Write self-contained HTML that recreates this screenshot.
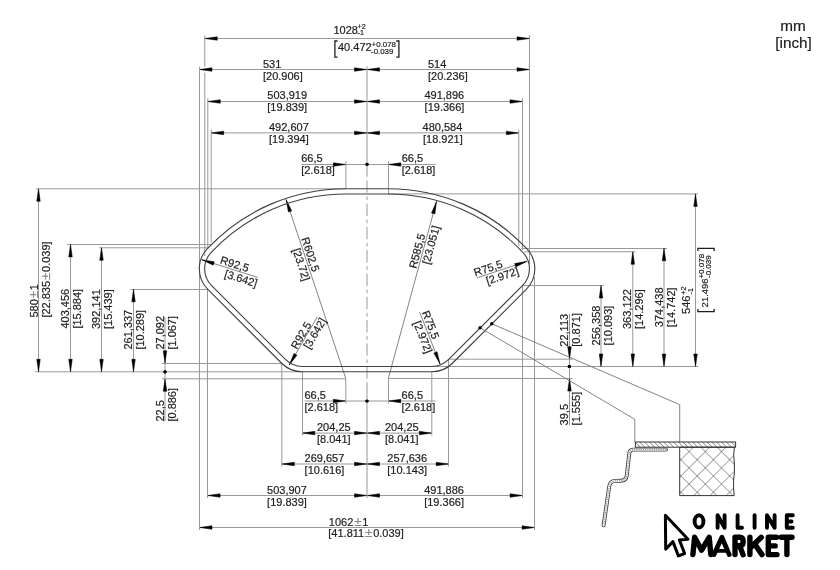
<!DOCTYPE html><html><head><meta charset="utf-8"><style>html,body{margin:0;padding:0;background:#fff;}svg{display:block;will-change:transform;}</style></head><body><svg width="840" height="570" viewBox="0 0 840 570">
<rect width="840" height="570" fill="#fff"/>
<line x1="204.75" y1="38.50" x2="529.50" y2="38.50" stroke="#999" stroke-width="1" fill="none"/>
<path d="M204.75,38.50 L217.25,40.25 L217.25,36.75 Z" fill="#000" stroke="#000" stroke-width="0.5" stroke-linejoin="round"/>
<path d="M529.50,38.50 L517.00,36.75 L517.00,40.25 Z" fill="#000" stroke="#000" stroke-width="0.5" stroke-linejoin="round"/>
<text x="333.40" y="33.60" font-size="11.00" font-family="Liberation Sans, sans-serif" fill="#1e1e1e" stroke="#1e1e1e" stroke-width="0.2" >1028</text>
<text x="357.60" y="28.60" font-size="7.20" font-family="Liberation Sans, sans-serif" fill="#1e1e1e" stroke="#1e1e1e" stroke-width="0.2" >+2</text>
<text x="357.60" y="35.40" font-size="7.20" font-family="Liberation Sans, sans-serif" fill="#1e1e1e" stroke="#1e1e1e" stroke-width="0.2" >-1</text>
<path d="M337.6,41 H334.9 V57.1 H337.6 M396.2,41 H398.9 V57.1 H396.2" stroke="#1e1e1e" stroke-width="1.3" fill="none"/>
<text x="338.00" y="50.60" font-size="11.00" font-family="Liberation Sans, sans-serif" fill="#1e1e1e" stroke="#1e1e1e" stroke-width="0.2" >40.472</text>
<text x="371.60" y="46.60" font-size="7.90" font-family="Liberation Sans, sans-serif" fill="#1e1e1e" stroke="#1e1e1e" stroke-width="0.2" >+0.078</text>
<text x="371.00" y="53.60" font-size="7.90" font-family="Liberation Sans, sans-serif" fill="#1e1e1e" stroke="#1e1e1e" stroke-width="0.2" >-0.039</text>
<line x1="199.50" y1="69.50" x2="367.00" y2="69.50" stroke="#999" stroke-width="1" fill="none"/>
<path d="M199.50,69.50 L212.00,71.25 L212.00,67.75 Z" fill="#000" stroke="#000" stroke-width="0.5" stroke-linejoin="round"/>
<path d="M367.00,69.50 L354.50,67.75 L354.50,71.25 Z" fill="#000" stroke="#000" stroke-width="0.5" stroke-linejoin="round"/>
<text x="263.00" y="67.80" font-size="11.00" font-family="Liberation Sans, sans-serif" fill="#1e1e1e" stroke="#1e1e1e" stroke-width="0.2" >531</text>
<text x="263.00" y="79.60" font-size="11.00" font-family="Liberation Sans, sans-serif" fill="#1e1e1e" stroke="#1e1e1e" stroke-width="0.2" >[20.906]</text>
<line x1="367.00" y1="69.50" x2="529.50" y2="69.50" stroke="#999" stroke-width="1" fill="none"/>
<path d="M367.00,69.50 L379.50,71.25 L379.50,67.75 Z" fill="#000" stroke="#000" stroke-width="0.5" stroke-linejoin="round"/>
<path d="M529.50,69.50 L517.00,67.75 L517.00,71.25 Z" fill="#000" stroke="#000" stroke-width="0.5" stroke-linejoin="round"/>
<text x="428.00" y="67.80" font-size="11.00" font-family="Liberation Sans, sans-serif" fill="#1e1e1e" stroke="#1e1e1e" stroke-width="0.2" >514</text>
<text x="428.00" y="79.60" font-size="11.00" font-family="Liberation Sans, sans-serif" fill="#1e1e1e" stroke="#1e1e1e" stroke-width="0.2" >[20.236]</text>
<line x1="207.80" y1="101.50" x2="367.00" y2="101.50" stroke="#999" stroke-width="1" fill="none"/>
<path d="M207.80,101.50 L220.30,103.25 L220.30,99.75 Z" fill="#000" stroke="#000" stroke-width="0.5" stroke-linejoin="round"/>
<path d="M367.00,101.50 L354.50,99.75 L354.50,103.25 Z" fill="#000" stroke="#000" stroke-width="0.5" stroke-linejoin="round"/>
<text x="267.30" y="99.40" font-size="11.00" font-family="Liberation Sans, sans-serif" fill="#1e1e1e" stroke="#1e1e1e" stroke-width="0.2" >503,919</text>
<text x="267.30" y="111.20" font-size="11.00" font-family="Liberation Sans, sans-serif" fill="#1e1e1e" stroke="#1e1e1e" stroke-width="0.2" >[19.839]</text>
<line x1="367.00" y1="101.50" x2="522.50" y2="101.50" stroke="#999" stroke-width="1" fill="none"/>
<path d="M367.00,101.50 L379.50,103.25 L379.50,99.75 Z" fill="#000" stroke="#000" stroke-width="0.5" stroke-linejoin="round"/>
<path d="M522.50,101.50 L510.00,99.75 L510.00,103.25 Z" fill="#000" stroke="#000" stroke-width="0.5" stroke-linejoin="round"/>
<text x="424.40" y="99.40" font-size="11.00" font-family="Liberation Sans, sans-serif" fill="#1e1e1e" stroke="#1e1e1e" stroke-width="0.2" >491,896</text>
<text x="424.60" y="111.20" font-size="11.00" font-family="Liberation Sans, sans-serif" fill="#1e1e1e" stroke="#1e1e1e" stroke-width="0.2" >[19.366]</text>
<line x1="211.20" y1="132.90" x2="367.00" y2="132.90" stroke="#999" stroke-width="1" fill="none"/>
<path d="M211.20,132.90 L223.70,134.65 L223.70,131.15 Z" fill="#000" stroke="#000" stroke-width="0.5" stroke-linejoin="round"/>
<path d="M367.00,132.90 L354.50,131.15 L354.50,134.65 Z" fill="#000" stroke="#000" stroke-width="0.5" stroke-linejoin="round"/>
<text x="269.00" y="131.00" font-size="11.00" font-family="Liberation Sans, sans-serif" fill="#1e1e1e" stroke="#1e1e1e" stroke-width="0.2" >492,607</text>
<text x="269.00" y="142.80" font-size="11.00" font-family="Liberation Sans, sans-serif" fill="#1e1e1e" stroke="#1e1e1e" stroke-width="0.2" >[19.394]</text>
<line x1="367.00" y1="132.90" x2="518.80" y2="132.90" stroke="#999" stroke-width="1" fill="none"/>
<path d="M367.00,132.90 L379.50,134.65 L379.50,131.15 Z" fill="#000" stroke="#000" stroke-width="0.5" stroke-linejoin="round"/>
<path d="M518.80,132.90 L506.30,131.15 L506.30,134.65 Z" fill="#000" stroke="#000" stroke-width="0.5" stroke-linejoin="round"/>
<text x="422.60" y="131.00" font-size="11.00" font-family="Liberation Sans, sans-serif" fill="#1e1e1e" stroke="#1e1e1e" stroke-width="0.2" >480,584</text>
<text x="423.00" y="142.80" font-size="11.00" font-family="Liberation Sans, sans-serif" fill="#1e1e1e" stroke="#1e1e1e" stroke-width="0.2" >[18.921]</text>
<line x1="301.40" y1="164.50" x2="435.40" y2="164.50" stroke="#999" stroke-width="1" fill="none"/>
<path d="M345.90,164.50 L333.40,162.75 L333.40,166.25 Z" fill="#000" stroke="#000" stroke-width="0.5" stroke-linejoin="round"/>
<path d="M388.30,164.50 L400.80,166.25 L400.80,162.75 Z" fill="#000" stroke="#000" stroke-width="0.5" stroke-linejoin="round"/>
<text x="301.20" y="162.40" font-size="11.00" font-family="Liberation Sans, sans-serif" fill="#1e1e1e" stroke="#1e1e1e" stroke-width="0.2" >66,5</text>
<text x="301.20" y="174.20" font-size="11.00" font-family="Liberation Sans, sans-serif" fill="#1e1e1e" stroke="#1e1e1e" stroke-width="0.2" >[2.618]</text>
<text x="401.70" y="162.40" font-size="11.00" font-family="Liberation Sans, sans-serif" fill="#1e1e1e" stroke="#1e1e1e" stroke-width="0.2" >66,5</text>
<text x="401.70" y="174.20" font-size="11.00" font-family="Liberation Sans, sans-serif" fill="#1e1e1e" stroke="#1e1e1e" stroke-width="0.2" >[2.618]</text>
<circle cx="367.00" cy="164.30" r="1.60" fill="#000"/>
<line x1="345.90" y1="161.30" x2="345.90" y2="188.70" stroke="#999" stroke-width="1" fill="none"/>
<line x1="388.50" y1="161.30" x2="388.50" y2="194.00" stroke="#999" stroke-width="1" fill="none"/>
<line x1="304.70" y1="401.00" x2="435.50" y2="401.00" stroke="#999" stroke-width="1" fill="none"/>
<path d="M345.80,401.00 L333.30,399.25 L333.30,402.75 Z" fill="#000" stroke="#000" stroke-width="0.5" stroke-linejoin="round"/>
<path d="M388.30,401.00 L400.80,402.75 L400.80,399.25 Z" fill="#000" stroke="#000" stroke-width="0.5" stroke-linejoin="round"/>
<circle cx="367.00" cy="401.00" r="1.60" fill="#000"/>
<text x="304.50" y="399.10" font-size="11.00" font-family="Liberation Sans, sans-serif" fill="#1e1e1e" stroke="#1e1e1e" stroke-width="0.2" >66,5</text>
<text x="304.50" y="410.90" font-size="11.00" font-family="Liberation Sans, sans-serif" fill="#1e1e1e" stroke="#1e1e1e" stroke-width="0.2" >[2.618]</text>
<text x="401.60" y="399.10" font-size="11.00" font-family="Liberation Sans, sans-serif" fill="#1e1e1e" stroke="#1e1e1e" stroke-width="0.2" >66,5</text>
<text x="401.60" y="410.90" font-size="11.00" font-family="Liberation Sans, sans-serif" fill="#1e1e1e" stroke="#1e1e1e" stroke-width="0.2" >[2.618]</text>
<line x1="345.80" y1="378.60" x2="345.80" y2="403.50" stroke="#999" stroke-width="1" fill="none"/>
<line x1="388.50" y1="378.60" x2="388.50" y2="403.50" stroke="#999" stroke-width="1" fill="none"/>
<line x1="302.30" y1="433.10" x2="431.80" y2="433.10" stroke="#999" stroke-width="1" fill="none"/>
<path d="M302.30,433.10 L314.80,434.85 L314.80,431.35 Z" fill="#000" stroke="#000" stroke-width="0.5" stroke-linejoin="round"/>
<path d="M367.00,433.10 L354.50,431.35 L354.50,434.85 Z" fill="#000" stroke="#000" stroke-width="0.5" stroke-linejoin="round"/>
<path d="M367.00,433.10 L379.50,434.85 L379.50,431.35 Z" fill="#000" stroke="#000" stroke-width="0.5" stroke-linejoin="round"/>
<path d="M431.80,433.10 L419.30,431.35 L419.30,434.85 Z" fill="#000" stroke="#000" stroke-width="0.5" stroke-linejoin="round"/>
<text x="317.00" y="431.20" font-size="11.00" font-family="Liberation Sans, sans-serif" fill="#1e1e1e" stroke="#1e1e1e" stroke-width="0.2" >204,25</text>
<text x="317.00" y="443.00" font-size="11.00" font-family="Liberation Sans, sans-serif" fill="#1e1e1e" stroke="#1e1e1e" stroke-width="0.2" >[8.041]</text>
<text x="385.00" y="431.20" font-size="11.00" font-family="Liberation Sans, sans-serif" fill="#1e1e1e" stroke="#1e1e1e" stroke-width="0.2" >204,25</text>
<text x="385.00" y="443.00" font-size="11.00" font-family="Liberation Sans, sans-serif" fill="#1e1e1e" stroke="#1e1e1e" stroke-width="0.2" >[8.041]</text>
<line x1="302.50" y1="371.80" x2="302.50" y2="435.60" stroke="#999" stroke-width="1" fill="none"/>
<line x1="431.80" y1="371.80" x2="431.80" y2="435.60" stroke="#999" stroke-width="1" fill="none"/>
<line x1="281.80" y1="464.00" x2="448.70" y2="464.00" stroke="#999" stroke-width="1" fill="none"/>
<path d="M281.80,464.00 L294.30,465.75 L294.30,462.25 Z" fill="#000" stroke="#000" stroke-width="0.5" stroke-linejoin="round"/>
<path d="M367.00,464.00 L354.50,462.25 L354.50,465.75 Z" fill="#000" stroke="#000" stroke-width="0.5" stroke-linejoin="round"/>
<path d="M367.00,464.00 L379.50,465.75 L379.50,462.25 Z" fill="#000" stroke="#000" stroke-width="0.5" stroke-linejoin="round"/>
<path d="M448.70,464.00 L436.20,462.25 L436.20,465.75 Z" fill="#000" stroke="#000" stroke-width="0.5" stroke-linejoin="round"/>
<text x="304.60" y="462.10" font-size="11.00" font-family="Liberation Sans, sans-serif" fill="#1e1e1e" stroke="#1e1e1e" stroke-width="0.2" >269,657</text>
<text x="304.60" y="473.90" font-size="11.00" font-family="Liberation Sans, sans-serif" fill="#1e1e1e" stroke="#1e1e1e" stroke-width="0.2" >[10.616]</text>
<text x="387.30" y="462.10" font-size="11.00" font-family="Liberation Sans, sans-serif" fill="#1e1e1e" stroke="#1e1e1e" stroke-width="0.2" >257,636</text>
<text x="387.30" y="473.90" font-size="11.00" font-family="Liberation Sans, sans-serif" fill="#1e1e1e" stroke="#1e1e1e" stroke-width="0.2" >[10.143]</text>
<line x1="281.80" y1="363.30" x2="281.80" y2="466.50" stroke="#999" stroke-width="1" fill="none"/>
<line x1="448.50" y1="359.40" x2="448.50" y2="466.50" stroke="#999" stroke-width="1" fill="none"/>
<line x1="207.60" y1="495.50" x2="522.60" y2="495.50" stroke="#999" stroke-width="1" fill="none"/>
<path d="M207.60,495.50 L220.10,497.25 L220.10,493.75 Z" fill="#000" stroke="#000" stroke-width="0.5" stroke-linejoin="round"/>
<path d="M367.00,495.50 L354.50,493.75 L354.50,497.25 Z" fill="#000" stroke="#000" stroke-width="0.5" stroke-linejoin="round"/>
<path d="M367.00,495.50 L379.50,497.25 L379.50,493.75 Z" fill="#000" stroke="#000" stroke-width="0.5" stroke-linejoin="round"/>
<path d="M522.60,495.50 L510.10,493.75 L510.10,497.25 Z" fill="#000" stroke="#000" stroke-width="0.5" stroke-linejoin="round"/>
<text x="267.10" y="493.70" font-size="11.00" font-family="Liberation Sans, sans-serif" fill="#1e1e1e" stroke="#1e1e1e" stroke-width="0.2" >503,907</text>
<text x="267.10" y="505.50" font-size="11.00" font-family="Liberation Sans, sans-serif" fill="#1e1e1e" stroke="#1e1e1e" stroke-width="0.2" >[19.839]</text>
<text x="424.20" y="493.70" font-size="11.00" font-family="Liberation Sans, sans-serif" fill="#1e1e1e" stroke="#1e1e1e" stroke-width="0.2" >491,886</text>
<text x="424.20" y="505.50" font-size="11.00" font-family="Liberation Sans, sans-serif" fill="#1e1e1e" stroke="#1e1e1e" stroke-width="0.2" >[19.366]</text>
<line x1="199.50" y1="527.50" x2="534.60" y2="527.50" stroke="#999" stroke-width="1" fill="none"/>
<path d="M199.50,527.50 L212.00,529.25 L212.00,525.75 Z" fill="#000" stroke="#000" stroke-width="0.5" stroke-linejoin="round"/>
<path d="M534.60,527.50 L522.10,525.75 L522.10,529.25 Z" fill="#000" stroke="#000" stroke-width="0.5" stroke-linejoin="round"/>
<text x="328.80" y="525.50" font-size="11.00" font-family="Liberation Sans, sans-serif" fill="#1e1e1e" stroke="#1e1e1e" stroke-width="0.2" >1062<tspan dx="0.9" font-size="13.42" fill="#8a8a8a" stroke="#8a8a8a">±</tspan><tspan dx="0.7">1</tspan></text>
<text x="328.30" y="537.30" font-size="11.00" font-family="Liberation Sans, sans-serif" fill="#1e1e1e" stroke="#1e1e1e" stroke-width="0.2" >[41.811<tspan dx="0.9" font-size="13.42" fill="#8a8a8a" stroke="#8a8a8a">±</tspan><tspan dx="0.7">0.039]</tspan></text>
<line x1="204.75" y1="35.40" x2="204.75" y2="66.70" stroke="#999" stroke-width="1" fill="none"/>
<line x1="204.75" y1="72.80" x2="204.75" y2="256.00" stroke="#999" stroke-width="1" fill="none"/>
<line x1="529.50" y1="35.30" x2="529.50" y2="264.00" stroke="#999" stroke-width="1" fill="none"/>
<line x1="199.50" y1="66.70" x2="199.50" y2="530.00" stroke="#999" stroke-width="1" fill="none"/>
<line x1="534.50" y1="277.00" x2="534.50" y2="530.00" stroke="#999" stroke-width="1" fill="none"/>
<line x1="207.80" y1="98.10" x2="207.80" y2="248.20" stroke="#999" stroke-width="1" fill="none"/>
<line x1="207.50" y1="289.00" x2="207.50" y2="498.00" stroke="#999" stroke-width="1" fill="none"/>
<line x1="522.50" y1="98.30" x2="522.50" y2="250.00" stroke="#999" stroke-width="1" fill="none"/>
<line x1="522.50" y1="285.50" x2="522.50" y2="498.00" stroke="#999" stroke-width="1" fill="none"/>
<line x1="211.20" y1="129.50" x2="211.20" y2="242.50" stroke="#999" stroke-width="1" fill="none"/>
<line x1="518.80" y1="129.70" x2="518.80" y2="246.00" stroke="#999" stroke-width="1" fill="none"/>
<line x1="367.00" y1="66.50" x2="367.00" y2="176.80" stroke="#999" stroke-width="1" fill="none"/>
<line x1="367" y1="180.3" x2="367" y2="378.7" stroke="#999" stroke-width="1" fill="none" stroke-dasharray="12.4 3.6 3.7 3.6"/>
<line x1="367.00" y1="382.10" x2="367.00" y2="498.00" stroke="#999" stroke-width="1" fill="none"/>
<line x1="36.00" y1="188.80" x2="346.00" y2="188.80" stroke="#999" stroke-width="1" fill="none"/>
<line x1="35.40" y1="371.80" x2="302.30" y2="371.80" stroke="#999" stroke-width="1" fill="none"/>
<line x1="38.50" y1="188.80" x2="38.50" y2="371.80" stroke="#999" stroke-width="1" fill="none"/>
<path d="M38.50,188.80 L36.75,201.30 L40.25,201.30 Z" fill="#000" stroke="#000" stroke-width="0.5" stroke-linejoin="round"/>
<path d="M38.50,371.80 L40.25,359.30 L36.75,359.30 Z" fill="#000" stroke="#000" stroke-width="0.5" stroke-linejoin="round"/>
<text transform="translate(37.60 317.60) rotate(-90.00)" font-size="11.00" font-family="Liberation Sans, sans-serif" fill="#1e1e1e" stroke="#1e1e1e" stroke-width="0.2" >580<tspan dx="0.9" font-size="13.42" fill="#8a8a8a" stroke="#8a8a8a">±</tspan><tspan dx="0.7">1</tspan></text>
<text transform="translate(49.60 317.60) rotate(-90.00)" font-size="11.00" font-family="Liberation Sans, sans-serif" fill="#1e1e1e" stroke="#1e1e1e" stroke-width="0.2" >[22.835<tspan dx="0.9" font-size="13.42" fill="#8a8a8a" stroke="#8a8a8a">±</tspan><tspan dx="0.7">0.039]</tspan></text>
<line x1="67.00" y1="244.50" x2="211.00" y2="244.50" stroke="#999" stroke-width="1" fill="none"/>
<line x1="70.50" y1="244.40" x2="70.50" y2="371.80" stroke="#999" stroke-width="1" fill="none"/>
<path d="M70.50,244.40 L68.75,256.90 L72.25,256.90 Z" fill="#000" stroke="#000" stroke-width="0.5" stroke-linejoin="round"/>
<path d="M70.50,371.80 L72.25,359.30 L68.75,359.30 Z" fill="#000" stroke="#000" stroke-width="0.5" stroke-linejoin="round"/>
<text transform="translate(69.10 328.60) rotate(-90.00)" font-size="11.00" font-family="Liberation Sans, sans-serif" fill="#1e1e1e" stroke="#1e1e1e" stroke-width="0.2" >403,456</text>
<text transform="translate(81.10 328.60) rotate(-90.00)" font-size="11.00" font-family="Liberation Sans, sans-serif" fill="#1e1e1e" stroke="#1e1e1e" stroke-width="0.2" >[15.884]</text>
<line x1="99.00" y1="247.80" x2="208.00" y2="247.80" stroke="#999" stroke-width="1" fill="none"/>
<line x1="101.50" y1="247.80" x2="101.50" y2="371.80" stroke="#999" stroke-width="1" fill="none"/>
<path d="M101.50,247.80 L99.75,260.30 L103.25,260.30 Z" fill="#000" stroke="#000" stroke-width="0.5" stroke-linejoin="round"/>
<path d="M101.50,371.80 L103.25,359.30 L99.75,359.30 Z" fill="#000" stroke="#000" stroke-width="0.5" stroke-linejoin="round"/>
<text transform="translate(100.20 329.00) rotate(-90.00)" font-size="11.00" font-family="Liberation Sans, sans-serif" fill="#1e1e1e" stroke="#1e1e1e" stroke-width="0.2" >392,141</text>
<text transform="translate(112.20 329.00) rotate(-90.00)" font-size="11.00" font-family="Liberation Sans, sans-serif" fill="#1e1e1e" stroke="#1e1e1e" stroke-width="0.2" >[15.439]</text>
<line x1="130.30" y1="289.50" x2="208.00" y2="289.50" stroke="#999" stroke-width="1" fill="none"/>
<line x1="133.50" y1="289.30" x2="133.50" y2="371.80" stroke="#999" stroke-width="1" fill="none"/>
<path d="M133.50,289.30 L131.75,301.80 L135.25,301.80 Z" fill="#000" stroke="#000" stroke-width="0.5" stroke-linejoin="round"/>
<path d="M133.50,371.80 L135.25,359.30 L131.75,359.30 Z" fill="#000" stroke="#000" stroke-width="0.5" stroke-linejoin="round"/>
<text transform="translate(131.90 349.60) rotate(-90.00)" font-size="11.00" font-family="Liberation Sans, sans-serif" fill="#1e1e1e" stroke="#1e1e1e" stroke-width="0.2" >261,337</text>
<text transform="translate(143.90 349.60) rotate(-90.00)" font-size="11.00" font-family="Liberation Sans, sans-serif" fill="#1e1e1e" stroke="#1e1e1e" stroke-width="0.2" >[10.289]</text>
<line x1="165.00" y1="317.00" x2="165.00" y2="421.50" stroke="#999" stroke-width="1" fill="none"/>
<path d="M165.00,363.30 L166.75,350.80 L163.25,350.80 Z" fill="#000" stroke="#000" stroke-width="0.5" stroke-linejoin="round"/>
<path d="M165.00,378.80 L163.25,391.30 L166.75,391.30 Z" fill="#000" stroke="#000" stroke-width="0.5" stroke-linejoin="round"/>
<circle cx="165.00" cy="371.80" r="1.60" fill="#000"/>
<line x1="162.00" y1="363.50" x2="281.60" y2="363.50" stroke="#999" stroke-width="1" fill="none"/>
<line x1="162.00" y1="378.80" x2="345.80" y2="378.80" stroke="#999" stroke-width="1" fill="none"/>
<text transform="translate(163.60 349.60) rotate(-90.00)" font-size="11.00" font-family="Liberation Sans, sans-serif" fill="#1e1e1e" stroke="#1e1e1e" stroke-width="0.2" >27,092</text>
<text transform="translate(175.60 349.60) rotate(-90.00)" font-size="11.00" font-family="Liberation Sans, sans-serif" fill="#1e1e1e" stroke="#1e1e1e" stroke-width="0.2" >[1.067]</text>
<text transform="translate(163.60 421.60) rotate(-90.00)" font-size="11.00" font-family="Liberation Sans, sans-serif" fill="#1e1e1e" stroke="#1e1e1e" stroke-width="0.2" >22,5</text>
<text transform="translate(175.60 421.60) rotate(-90.00)" font-size="11.00" font-family="Liberation Sans, sans-serif" fill="#1e1e1e" stroke="#1e1e1e" stroke-width="0.2" >[0.886]</text>
<line x1="388.30" y1="193.90" x2="698.00" y2="193.90" stroke="#999" stroke-width="1" fill="none"/>
<line x1="432.00" y1="366.50" x2="698.40" y2="366.50" stroke="#999" stroke-width="1" fill="none"/>
<line x1="695.50" y1="193.90" x2="695.50" y2="366.45" stroke="#999" stroke-width="1" fill="none"/>
<path d="M695.50,193.90 L693.75,206.40 L697.25,206.40 Z" fill="#000" stroke="#000" stroke-width="0.5" stroke-linejoin="round"/>
<path d="M695.50,366.45 L697.25,353.95 L693.75,353.95 Z" fill="#000" stroke="#000" stroke-width="0.5" stroke-linejoin="round"/>
<text transform="translate(690.00 313.90) rotate(-90.00)" font-size="11.00" font-family="Liberation Sans, sans-serif" fill="#1e1e1e" stroke="#1e1e1e" stroke-width="0.2" >546</text>
<text transform="translate(685.80 294.80) rotate(-90.00)" font-size="7.40" font-family="Liberation Sans, sans-serif" fill="#1e1e1e" stroke="#1e1e1e" stroke-width="0.2" >+2</text>
<text transform="translate(692.80 294.40) rotate(-90.00)" font-size="7.40" font-family="Liberation Sans, sans-serif" fill="#1e1e1e" stroke="#1e1e1e" stroke-width="0.2" >-1</text>
<path d="M697.9,309.0 V311.7 H714.1 V309.0 M697.9,251.1 V248.4 H714.1 V251.1" stroke="#1e1e1e" stroke-width="1.3" fill="none"/>
<text transform="translate(708.40 307.40) rotate(-90.00)" font-size="9.50" font-family="Liberation Sans, sans-serif" fill="#1e1e1e" stroke="#1e1e1e" stroke-width="0.2" >21.496</text>
<text transform="translate(703.60 278.60) rotate(-90.00)" font-size="8.00" font-family="Liberation Sans, sans-serif" fill="#1e1e1e" stroke="#1e1e1e" stroke-width="0.2" >+0.078</text>
<text transform="translate(710.70 278.00) rotate(-90.00)" font-size="8.00" font-family="Liberation Sans, sans-serif" fill="#1e1e1e" stroke="#1e1e1e" stroke-width="0.2" >-0.039</text>
<line x1="521.70" y1="248.50" x2="667.00" y2="248.50" stroke="#999" stroke-width="1" fill="none"/>
<line x1="664.00" y1="248.30" x2="664.00" y2="366.45" stroke="#999" stroke-width="1" fill="none"/>
<path d="M664.00,248.30 L662.25,260.80 L665.75,260.80 Z" fill="#000" stroke="#000" stroke-width="0.5" stroke-linejoin="round"/>
<path d="M664.00,366.45 L665.75,353.95 L662.25,353.95 Z" fill="#000" stroke="#000" stroke-width="0.5" stroke-linejoin="round"/>
<text transform="translate(662.60 327.20) rotate(-90.00)" font-size="11.00" font-family="Liberation Sans, sans-serif" fill="#1e1e1e" stroke="#1e1e1e" stroke-width="0.2" >374,438</text>
<text transform="translate(674.60 327.20) rotate(-90.00)" font-size="11.00" font-family="Liberation Sans, sans-serif" fill="#1e1e1e" stroke="#1e1e1e" stroke-width="0.2" >[14.742]</text>
<line x1="524.20" y1="251.75" x2="635.50" y2="251.75" stroke="#999" stroke-width="1" fill="none"/>
<line x1="632.80" y1="251.75" x2="632.80" y2="366.45" stroke="#999" stroke-width="1" fill="none"/>
<path d="M632.80,251.75 L631.05,264.25 L634.55,264.25 Z" fill="#000" stroke="#000" stroke-width="0.5" stroke-linejoin="round"/>
<path d="M632.80,366.45 L634.55,353.95 L631.05,353.95 Z" fill="#000" stroke="#000" stroke-width="0.5" stroke-linejoin="round"/>
<text transform="translate(631.40 329.00) rotate(-90.00)" font-size="11.00" font-family="Liberation Sans, sans-serif" fill="#1e1e1e" stroke="#1e1e1e" stroke-width="0.2" >363,122</text>
<text transform="translate(643.40 329.00) rotate(-90.00)" font-size="11.00" font-family="Liberation Sans, sans-serif" fill="#1e1e1e" stroke="#1e1e1e" stroke-width="0.2" >[14.296]</text>
<line x1="522.40" y1="285.50" x2="603.80" y2="285.50" stroke="#999" stroke-width="1" fill="none"/>
<line x1="601.00" y1="285.60" x2="601.00" y2="366.45" stroke="#999" stroke-width="1" fill="none"/>
<path d="M601.00,285.60 L599.25,298.10 L602.75,298.10 Z" fill="#000" stroke="#000" stroke-width="0.5" stroke-linejoin="round"/>
<path d="M601.00,366.45 L602.75,353.95 L599.25,353.95 Z" fill="#000" stroke="#000" stroke-width="0.5" stroke-linejoin="round"/>
<text transform="translate(599.60 345.40) rotate(-90.00)" font-size="11.00" font-family="Liberation Sans, sans-serif" fill="#1e1e1e" stroke="#1e1e1e" stroke-width="0.2" >256,358</text>
<text transform="translate(611.60 345.40) rotate(-90.00)" font-size="11.00" font-family="Liberation Sans, sans-serif" fill="#1e1e1e" stroke="#1e1e1e" stroke-width="0.2" >[10.093]</text>
<line x1="569.50" y1="314.00" x2="569.50" y2="425.50" stroke="#999" stroke-width="1" fill="none"/>
<path d="M569.50,359.20 L571.25,346.70 L567.75,346.70 Z" fill="#000" stroke="#000" stroke-width="0.5" stroke-linejoin="round"/>
<path d="M569.50,378.60 L567.75,391.10 L571.25,391.10 Z" fill="#000" stroke="#000" stroke-width="0.5" stroke-linejoin="round"/>
<circle cx="569.30" cy="366.45" r="1.60" fill="#000"/>
<line x1="448.70" y1="359.20" x2="572.50" y2="359.20" stroke="#999" stroke-width="1" fill="none"/>
<line x1="388.30" y1="378.50" x2="572.50" y2="378.50" stroke="#999" stroke-width="1" fill="none"/>
<text transform="translate(567.90 346.70) rotate(-90.00)" font-size="11.00" font-family="Liberation Sans, sans-serif" fill="#1e1e1e" stroke="#1e1e1e" stroke-width="0.2" >22,113</text>
<text transform="translate(579.90 346.70) rotate(-90.00)" font-size="11.00" font-family="Liberation Sans, sans-serif" fill="#1e1e1e" stroke="#1e1e1e" stroke-width="0.2" >[0.871]</text>
<text transform="translate(567.90 425.40) rotate(-90.00)" font-size="11.00" font-family="Liberation Sans, sans-serif" fill="#1e1e1e" stroke="#1e1e1e" stroke-width="0.2" >39,5</text>
<text transform="translate(579.90 425.40) rotate(-90.00)" font-size="11.00" font-family="Liberation Sans, sans-serif" fill="#1e1e1e" stroke="#1e1e1e" stroke-width="0.2" >[1.555]</text>

<line x1="286.10" y1="199.60" x2="345.80" y2="378.50" stroke="#6e6e6e" stroke-width="0.85" fill="none"/>
<path d="M286.10,199.60 L288.40,212.01 L291.72,210.90 Z" fill="#000" stroke="#000" stroke-width="0.5" stroke-linejoin="round"/>
<line x1="436.50" y1="201.40" x2="388.30" y2="378.50" stroke="#6e6e6e" stroke-width="0.85" fill="none"/>
<path d="M436.50,201.40 L431.53,213.00 L434.91,213.92 Z" fill="#000" stroke="#000" stroke-width="0.5" stroke-linejoin="round"/>
<line x1="201.80" y1="259.70" x2="257.90" y2="277.50" stroke="#6e6e6e" stroke-width="0.85" fill="none"/>
<path d="M201.80,259.70 L213.19,265.15 L214.24,261.81 Z" fill="#000" stroke="#000" stroke-width="0.5" stroke-linejoin="round"/>
<line x1="527.10" y1="261.30" x2="476.90" y2="277.90" stroke="#6e6e6e" stroke-width="0.85" fill="none"/>
<path d="M527.10,261.30 L514.68,263.56 L515.78,266.89 Z" fill="#000" stroke="#000" stroke-width="0.5" stroke-linejoin="round"/>
<line x1="289.20" y1="365.10" x2="317.40" y2="316.70" stroke="#6e6e6e" stroke-width="0.85" fill="none"/>
<path d="M289.20,365.10 L297.00,355.18 L293.98,353.42 Z" fill="#000" stroke="#000" stroke-width="0.5" stroke-linejoin="round"/>
<line x1="440.00" y1="364.00" x2="419.50" y2="311.80" stroke="#6e6e6e" stroke-width="0.85" fill="none"/>
<path d="M440.00,364.00 L437.06,351.73 L433.80,353.00 Z" fill="#000" stroke="#000" stroke-width="0.5" stroke-linejoin="round"/>
<text transform="translate(301.20 238.84) rotate(71.55)" font-size="11.00" font-family="Liberation Sans, sans-serif" fill="#1e1e1e" stroke="#1e1e1e" stroke-width="0.2" >R602,5</text>
<text transform="translate(292.38 249.69) rotate(71.55)" font-size="11.00" font-family="Liberation Sans, sans-serif" fill="#1e1e1e" stroke="#1e1e1e" stroke-width="0.2" >[23.72]</text>
<text transform="translate(416.14 268.97) rotate(-74.77)" font-size="11.00" font-family="Liberation Sans, sans-serif" fill="#1e1e1e" stroke="#1e1e1e" stroke-width="0.2" >R585,5</text>
<text transform="translate(429.42 265.12) rotate(-74.77)" font-size="11.00" font-family="Liberation Sans, sans-serif" fill="#1e1e1e" stroke="#1e1e1e" stroke-width="0.2" >[23.051]</text>
<text transform="translate(219.53 263.33) rotate(17.60)" font-size="11.00" font-family="Liberation Sans, sans-serif" fill="#1e1e1e" stroke="#1e1e1e" stroke-width="0.2" >R92,5</text>
<text transform="translate(223.78 277.06) rotate(17.60)" font-size="11.00" font-family="Liberation Sans, sans-serif" fill="#1e1e1e" stroke="#1e1e1e" stroke-width="0.2" >[3.642]</text>
<text transform="translate(475.35 276.41) rotate(-18.30)" font-size="11.00" font-family="Liberation Sans, sans-serif" fill="#1e1e1e" stroke="#1e1e1e" stroke-width="0.2" >R75,5</text>
<text transform="translate(487.60 284.79) rotate(-18.30)" font-size="11.00" font-family="Liberation Sans, sans-serif" fill="#1e1e1e" stroke="#1e1e1e" stroke-width="0.2" >[2.972]</text>
<text transform="translate(296.98 349.96) rotate(-59.77)" font-size="11.00" font-family="Liberation Sans, sans-serif" fill="#1e1e1e" stroke="#1e1e1e" stroke-width="0.2" >R92,5</text>
<text transform="translate(309.58 349.78) rotate(-59.77)" font-size="11.00" font-family="Liberation Sans, sans-serif" fill="#1e1e1e" stroke="#1e1e1e" stroke-width="0.2" >[3.642]</text>
<text transform="translate(421.82 312.50) rotate(68.56)" font-size="11.00" font-family="Liberation Sans, sans-serif" fill="#1e1e1e" stroke="#1e1e1e" stroke-width="0.2" >R75,5</text>
<text transform="translate(413.21 322.87) rotate(68.56)" font-size="11.00" font-family="Liberation Sans, sans-serif" fill="#1e1e1e" stroke="#1e1e1e" stroke-width="0.2" >[2.972]</text>
<path d="M345.80,188.70 L388.30,188.70 A189.80,189.80 0 0 1 526.93,248.86 A29.20,29.20 0 0 1 526.25,289.45 L452.45,363.25 A29.20,29.20 0 0 1 431.80,371.80 L302.30,371.80 A29.20,29.20 0 0 1 281.65,363.25 L207.85,289.45 A29.20,29.20 0 0 1 207.17,248.86 A189.80,189.80 0 0 1 345.80,188.70 Z" stroke="#404040" stroke-width="1.12" fill="none"/>
<path d="M345.80,194.05 L388.30,194.05 A184.45,184.45 0 0 1 523.02,252.51 A23.85,23.85 0 0 1 522.46,285.67 L448.67,359.46 A23.85,23.85 0 0 1 431.80,366.45 L302.30,366.45 A23.85,23.85 0 0 1 285.43,359.46 L211.64,285.67 A23.85,23.85 0 0 1 211.08,252.51 A184.45,184.45 0 0 1 345.80,194.05 Z" stroke="#404040" stroke-width="1.12" fill="none"/>
<polyline points="480.00,327.70 634.80,419.30 634.80,442.20" stroke="#6e6e6e" stroke-width="0.85" fill="none"/>
<polyline points="491.80,323.80 679.70,404.60 679.70,447.20" stroke="#6e6e6e" stroke-width="0.85" fill="none"/>
<circle cx="480.00" cy="327.70" r="1.50" fill="#000"/>
<circle cx="491.80" cy="323.80" r="1.50" fill="#000"/>
<defs><pattern id="hat" patternUnits="userSpaceOnUse" width="3.4" height="6" patternTransform="rotate(-45 0 0)"><rect width="3.4" height="6" fill="#fff"/><line x1="0" y1="0" x2="0" y2="6" stroke="#555" stroke-width="1.1"/></pattern><pattern id="xh" patternUnits="userSpaceOnUse" width="11.5" height="11.5" patternTransform="translate(689 450.9) rotate(45)"><line x1="0" y1="0" x2="0" y2="11.5" stroke="#444" stroke-width="0.9"/><line x1="0" y1="0" x2="11.5" y2="0" stroke="#444" stroke-width="0.9"/></pattern></defs>
<rect x="635.4" y="442.0" width="100.2" height="5.2" fill="url(#hat)" stroke="#333" stroke-width="1"/>
<path d="M679.7,447.2 H734.4 Q733,455 734.3,463 Q735,472 733.6,480 Q733.2,488 734.2,495.6 H679.7 Z" fill="url(#xh)" stroke="#333" stroke-width="1"/>
<path d="M666,449.6 L633,449.6 Q629.5,449.8 629.2,453.7 L626.8,475.5 Q626.3,480.5 621,480.7 L615,480.9 Q610,481.2 609.2,486.5 L603.6,525.4" stroke="#444" stroke-width="3.9" fill="none" stroke-linecap="round" stroke-linejoin="round"/>
<path d="M666,449.6 L633,449.6 Q629.5,449.8 629.2,453.7 L626.8,475.5 Q626.3,480.5 621,480.7 L615,480.9 Q610,481.2 609.2,486.5 L603.6,525.4" stroke="#fff" stroke-width="2.1" fill="none" stroke-linecap="round" stroke-linejoin="round"/>
<path d="M666,449.6 L633,449.6 Q629.5,449.8 629.2,453.7 L626.8,475.5 Q626.3,480.5 621,480.7 L615,480.9 Q610,481.2 609.2,486.5 L603.6,525.4" stroke="#888" stroke-width="1.1" fill="none" stroke-linecap="butt" stroke-linejoin="round" stroke-dasharray="1.1 1.1"/>
<text x="780.3" y="31.0" font-size="15.3" font-family="Liberation Sans, sans-serif" fill="#1e1e1e" stroke="#1e1e1e" stroke-width="0.2">mm</text>
<text x="775.3" y="47.7" font-size="15.3" font-family="Liberation Sans, sans-serif" fill="#1e1e1e" stroke="#1e1e1e" stroke-width="0.2">[inch]</text>
<path d="M665.4,515.3 L665.7,549.2 L672.9,541.6 L678.4,555.9 L684.6,553.5 L679.4,539.9 L688.0,539.2 Z" fill="#fff" stroke="#000" stroke-width="3.0" stroke-linejoin="round"/>
<g stroke-width="3.9" stroke="#000" fill="none" stroke-linecap="round" stroke-linejoin="round">
<ellipse cx="699.0" cy="521.4" rx="4.4" ry="6.1"/>
<path d="M717.6,527.8 V515.3 L724.6,527.8 V515.3"/>
<path d="M737.6,515.3 V527.8 H742.0"/>
<path d="M754.6,515.3 V527.8"/>
<path d="M767.0,527.8 V515.3 L774.6,527.8 V515.3"/>
<path d="M792.8,515.3 H786.8 V527.8 H792.8 M786.8,521.5 H791.6"/>
</g>
<g stroke-width="5.4" stroke="#000" fill="none" stroke-linecap="round" stroke-linejoin="round">
<path d="M692.9,554.6 L694.6,537.3 L701.6,550.2 L709.2,537.3 L710.8,554.6"/>
<path d="M714.0,554.6 L721.9,537.3 L729.2,554.6" stroke-width="4.8"/>
<path d="M717.4,550.9 H726.0" stroke-width="3.6"/>
<path d="M735.0,554.6 V537.3 H739.6 Q743.2,537.3 743.2,541.4 Q743.2,545.6 739.6,545.6 H735.0 M739.6,545.6 L743.0,554.6"/>
<path d="M749.9,554.6 V537.3 M761.3,537.3 L751.0,547.2 M754.8,544.2 L762.0,554.6"/>
<path d="M776.6,537.3 H768.3 V554.6 H777.0 M768.3,545.9 H775.2"/>
<path d="M781.2,537.3 H792.0 M786.9,537.3 V554.6"/>
</g>
<circle cx="367.00" cy="164.30" r="1.60" fill="#000"/>
<circle cx="367.00" cy="401.00" r="1.60" fill="#000"/>
<circle cx="165.00" cy="371.80" r="1.60" fill="#000"/>
<circle cx="569.30" cy="366.45" r="1.60" fill="#000"/>
<circle cx="480.00" cy="327.70" r="1.50" fill="#000"/>
<circle cx="491.80" cy="323.80" r="1.50" fill="#000"/>
</svg></body></html>
